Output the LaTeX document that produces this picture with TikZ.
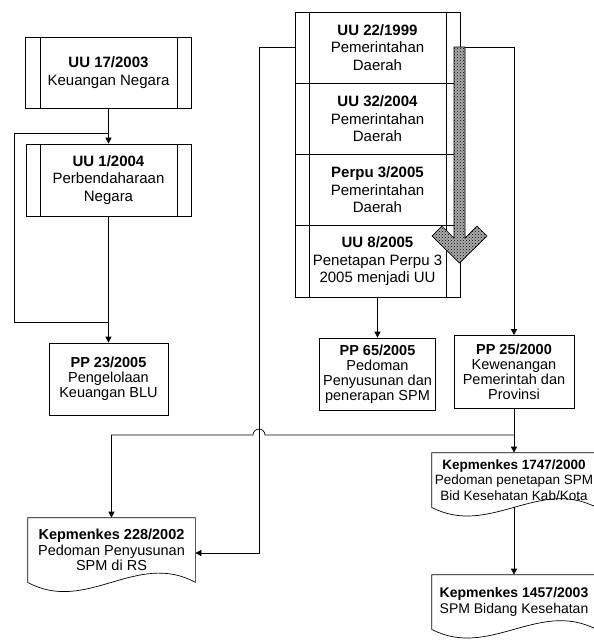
\documentclass[tikz,border=0pt]{standalone}
\usepackage{fontspec}
\setmainfont{Liberation Sans}
\usetikzlibrary{arrows.meta,patterns,calc}

\tikzset{
  every node/.style={font=\fontsize{15}{17.5}\selectfont},
  lawbox/.style={draw, rectangle, minimum width=165pt, minimum height=71.25pt, align=center, inner sep=0pt,
    path picture={\draw ([xshift=14.5pt]path picture bounding box.north west) -- ([xshift=14.5pt]path picture bounding box.south west)
      ([xshift=-14pt]path picture bounding box.north east) -- ([xshift=-14pt]path picture bounding box.south east);}},
  ppbox/.style={draw, rectangle, minimum width=118pt, minimum height=72pt, align=center, inner sep=0pt,
    font=\fontsize{14.5}{15}\selectfont},
  docbox/.style={rectangle, minimum width=164pt, minimum height=54pt, align=center, inner sep=0pt,
    font=\fontsize{14.5}{15.5}\selectfont},
  link/.style={-{Triangle[length=6pt,width=6pt]}},
  bigarrow/.style={draw, preaction={fill=gray!65}, pattern=crosshatch dots, pattern color=black}
}

\newcommand{\wavedoc}[2]{\draw (#1.south west) -- (#1.north west) -- (#1.north east) -- (#1.south east)
  .. controls ($(#1.south east)!0.35!(#1.south west)+(0,-#2)$) and ($(#1.south east)!0.65!(#1.south west)+(0,#2)$) .. (#1.south west);}

\begin{document}
\begin{tikzpicture}[x=1pt,y=-1pt,line width=0.7pt]
\useasboundingbox (0,0) rectangle (594,641);

\node[lawbox, minimum width=166pt] (uu17) at (108.5,72.5) {\textbf{UU 17/2003}\\Keuangan Negara};
\node[lawbox, minimum height=72pt] (uu1) at (108.5,180) {\textbf{UU 1/2004}\\Perbendaharaan\\Negara};
\node[ppbox, minimum width=119pt] (pp23) at (108.5,379) {\textbf{PP 23/2005}\\Pengelolaan\\Keuangan BLU};

\node[lawbox] (uu22) at (377.5,47.6) {\textbf{UU 22/1999}\\Pemerintahan\\Daerah};
\node[lawbox] (uu32) at (377.5,118.9) {\textbf{UU 32/2004}\\Pemerintahan\\Daerah};
\node[lawbox] (perpu3) at (377.5,190.1) {\textbf{Perpu 3/2005}\\Pemerintahan\\Daerah};
\node[lawbox] (uu8) at (377.5,261.4) {\textbf{UU 8/2005}\\Penetapan Perpu 3\\2005 menjadi UU};

\node[ppbox, minimum width=116pt] (pp65) at (377.5,374) {\textbf{PP 65/2005}\\Pedoman\\Penyusunan dan\\penerapan SPM};
\node[ppbox, minimum width=120pt, minimum height=73pt] (pp25) at (514,372) {\textbf{PP 25/2000}\\Kewenangan\\Pemerintah dan\\Provinsi};

\node[docbox, minimum width=167pt, minimum height=64pt] (k228) at (111.5,550) {\textbf{Kepmenkes 228/2002}\\Pedoman Penyusunan\\SPM di RS};
\node[docbox, font=\fontsize{13.5}{15.5}\selectfont] (k1747) at (514,480) {\textbf{Kepmenkes 1747/2000}\\Pedoman penetapan SPM\\Bid Kesehatan Kab/Kota};
\node[docbox, font=\fontsize{14}{15.5}\selectfont] (k1457) at (514,602) {\textbf{Kepmenkes 1457/2003}\\SPM Bidang Kesehatan};
\wavedoc{k228}{32}
\wavedoc{k1747}{30}
\wavedoc{k1457}{30}

\coordinate (lsplit) at (108.5,133);
\coordinate (lbend) at (14,322);
\coordinate (sbend) at (259,553);
\coordinate (hsplit) at (514,435);

\draw[link] (uu17.south) -- (uu1.north);
\draw (lsplit) -| (lbend) -- (lbend -| pp23.north);
\draw[link] (uu1.south) -- (pp23.north);
\draw[link] (uu22.west) -| (sbend) -- (k228.east |- sbend);
\draw[link] (uu22.east) -| (pp25.north);
\draw[link] (uu8.south) -- (pp65.north);
\draw[link] (pp25.south) -- (k1747.north);
\draw[link] (hsplit) -- (265,435) arc[start angle=0, end angle=-180, radius=6] -| (k228.north);
\draw[link] (k1747.south) -- (k1457.north);

\draw[bigarrow] (454,47) -- (465,47) -- (465,238) -- (477,226) -- (487,236) -- (459.5,263)
  -- (432,236) -- (442,226) -- (454,238) -- cycle;
\end{tikzpicture}
\end{document}
